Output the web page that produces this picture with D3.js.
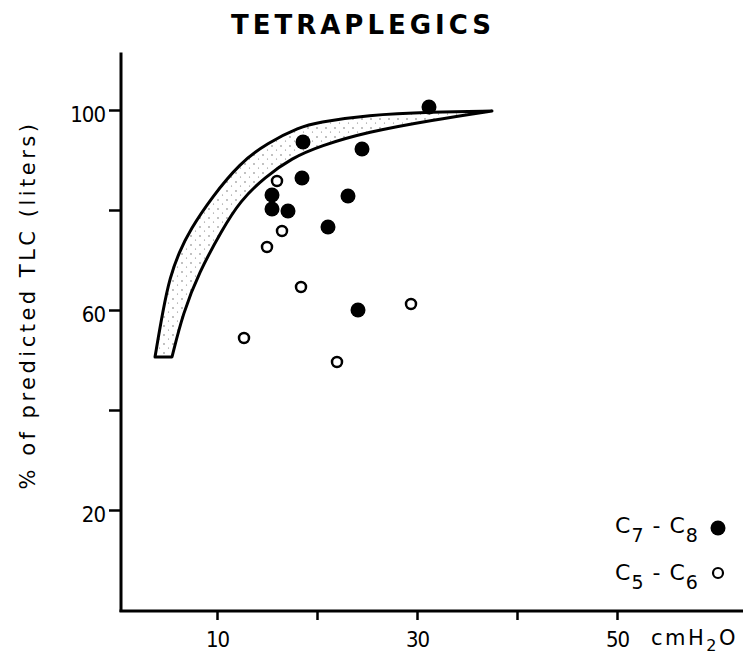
<!DOCTYPE html>
<html>
<head>
<meta charset="utf-8">
<script src="https://cdn.jsdelivr.net/npm/d3@7"></script>
<style>
  body { margin: 0; background: #fff; }
  text { fill: #000; }
</style>
</head>
<body>
<script>
// chart data
var c78 = [ // filled circles, C7 - C8
  [31.2, 100.6], [18.6, 93.6], [24.5, 92.2], [18.5, 86.4], [23.1, 82.8],
  [15.5, 83.0], [15.5, 80.2], [17.1, 79.8], [21.1, 76.6], [24.1, 60.0]
];
var c56 = [ // open circles, C5 - C6
  [16.0, 85.8], [16.5, 75.8], [15.0, 72.6], [18.4, 64.6], [29.4, 61.2],
  [12.7, 54.4], [22.0, 49.6]
];
// shaded normal band: upper and lower edges
var bandUpper = [
  [3.8, 50.6], [4.6, 60.0], [5.3, 66.6], [6.2, 71.5], [7.3, 76.0], [9.5, 82.6],
  [12.3, 89.4], [15.0, 93.4], [18.3, 96.6], [20.0, 97.5], [25.0, 99.0],
  [31.6, 99.6], [37.5, 99.8]
];
var bandLower = [
  [5.5, 50.6], [6.6, 59.4], [8.2, 67.5], [10.5, 76.0], [12.3, 81.8], [14.8, 86.6],
  [17.5, 90.4], [20.3, 92.8], [25.0, 95.6], [31.6, 98.0], [37.5, 99.8]
];
var xTicks = [10, 20, 30, 40, 50];
var xLabels = {10: "10", 30: "30", 50: "50"};
var yTicks = [20, 40, 60, 80, 100];
var yLabels = {20: "20", 60: "60", 100: "100"};

var width = 750, height = 654;

var x = d3.scaleLinear().domain([0, 60]).range([117, 717]);
var y = d3.scaleLinear().domain([0, 100]).range([610, 110]);

var svg = d3.select("body").append("svg")
  .attr("width", width)
  .attr("height", height);

// dotted fill for the band
var defs = svg.append("defs");
var pat = defs.append("pattern")
  .attr("id", "dots")
  .attr("patternUnits", "userSpaceOnUse")
  .attr("width", 9).attr("height", 9);
pat.append("circle").attr("cx", 2).attr("cy", 2).attr("r", 0.7).attr("fill", "#555");
pat.append("circle").attr("cx", 6.5).attr("cy", 6).attr("r", 0.6).attr("fill", "#777");

var numFont = "'Liberation Sans Narrow', 'DejaVu Sans Condensed', sans-serif";

// title
svg.append("text")
  .attr("x", 363).attr("y", 34)
  .attr("text-anchor", "middle")
  .style("font-family", "'DejaVu Sans', sans-serif")
  .style("font-weight", "bold")
  .style("font-size", "26px")
  .style("letter-spacing", "4px")
  .text("TETRAPLEGICS");

// y axis title
svg.append("text")
  .attr("transform", "translate(35,305) rotate(-90)")
  .attr("text-anchor", "middle")
  .style("font-family", "'DejaVu Sans', sans-serif")
  .style("font-size", "21px")
  .style("letter-spacing", "3.5px")
  .text("% of predicted TLC (liters)");

// axes
var yAxis = d3.axisLeft(y)
  .tickValues(yTicks)
  .tickSize(12)
  .tickPadding(4)
  .tickFormat(function(d) { return yLabels[d] || ""; });

var gy = svg.append("g")
  .attr("transform", "translate(" + (x(0) + 4) + ",0)")
  .call(yAxis);
gy.select(".domain").remove();
gy.selectAll(".tick line").attr("stroke", "#000").attr("stroke-width", 2.5);
gy.selectAll(".tick text")
  .style("font-family", numFont)
  .style("font-size", "22px")
  .style("letter-spacing", "-1px")
  .attr("dy", "0.5em");

var xAxis = d3.axisBottom(x)
  .tickValues(xTicks)
  .tickSize(9)
  .tickPadding(11)
  .tickFormat(function(d) { return xLabels[d] || ""; });

var gx = svg.append("g")
  .attr("transform", "translate(0," + (y(0) + 1) + ")")
  .call(xAxis);
gx.select(".domain").remove();
gx.selectAll(".tick line").attr("stroke", "#000").attr("stroke-width", 2.5);
gx.selectAll(".tick text")
  .style("font-family", numFont)
  .style("font-size", "22px")
  .style("letter-spacing", "-1px");

svg.append("line")
  .attr("x1", x(0) + 4).attr("x2", x(0) + 4)
  .attr("y1", y(111.5)).attr("y2", y(0) + 2)
  .attr("stroke", "#000").attr("stroke-width", 3);
svg.append("line")
  .attr("x1", x(0) + 2.5).attr("x2", x(62.6))
  .attr("y1", y(0) + 1).attr("y2", y(0) + 1)
  .attr("stroke", "#000").attr("stroke-width", 3);

// unit label
var unit = svg.append("text")
  .attr("x", 651).attr("y", 645)
  .style("font-family", "'DejaVu Sans', sans-serif")
  .style("font-size", "21px")
  .style("letter-spacing", "2.5px");
unit.append("tspan").text("cmH");
unit.append("tspan").attr("dy", 6).style("font-size", "16px").text("2");
unit.append("tspan").attr("dy", -6).text("O");

// band, smoothed through the read points
var line = d3.line()
  .x(function(d) { return x(d[0]); })
  .y(function(d) { return y(d[1]); })
  .curve(d3.curveBasis);

var bandPath = line(bandUpper) + "L" + line(bandLower.slice().reverse()).slice(1) + "Z";

svg.append("path")
  .attr("d", bandPath)
  .attr("fill", "url(#dots)")
  .attr("stroke", "#000")
  .attr("stroke-width", 3)
  .attr("stroke-linejoin", "round");

// points
svg.selectAll(".open")
  .data(c56)
  .enter().append("circle")
  .attr("class", "open")
  .attr("cx", function(d) { return x(d[0]); })
  .attr("cy", function(d) { return y(d[1]); })
  .attr("r", 5)
  .attr("fill", "#fff")
  .attr("stroke", "#000")
  .attr("stroke-width", 2.5);

svg.selectAll(".filled")
  .data(c78)
  .enter().append("circle")
  .attr("class", "filled")
  .attr("cx", function(d) { return x(d[0]); })
  .attr("cy", function(d) { return y(d[1]); })
  .attr("r", 7.5)
  .attr("fill", "#000");

// legend
var legend = [
  {a: "7", b: "8", filled: true, y: 533},
  {a: "5", b: "6", filled: false, y: 580}
];
legend.forEach(function(l) {
  var t = svg.append("text")
    .attr("x", 615).attr("y", l.y)
    .style("font-family", "'DejaVu Sans', sans-serif")
    .style("font-size", "22px")
    .style("letter-spacing", "1px");
  t.append("tspan").text("C");
  t.append("tspan").attr("dy", 9).style("font-size", "19px").text(l.a);
  t.append("tspan").attr("dy", -9).text(" - C");
  t.append("tspan").attr("dy", 9).style("font-size", "19px").text(l.b);
  if (l.filled) {
    svg.append("circle").attr("cx", 718).attr("cy", l.y - 5).attr("r", 7.5).attr("fill", "#000");
  } else {
    svg.append("circle").attr("cx", 718).attr("cy", l.y - 7).attr("r", 5)
      .attr("fill", "#fff").attr("stroke", "#000").attr("stroke-width", 2.2);
  }
});
</script>
</body>
</html>
